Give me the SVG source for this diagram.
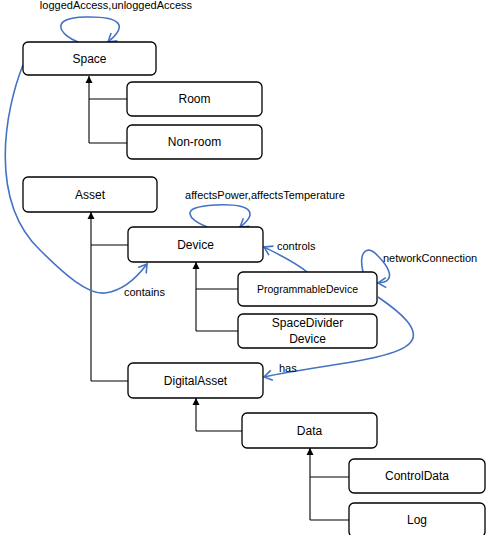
<svg xmlns="http://www.w3.org/2000/svg" width="493" height="535" viewBox="0 0 493 535">
<style>
.n rect{fill:#fff;stroke:#000;stroke-width:1.3}
.n text{font-family:"Liberation Sans",Arial,sans-serif;font-size:12px;text-anchor:middle;dominant-baseline:central;fill:#000}
.n text.s{font-size:10.5px}
.inh{fill:none;stroke:#000;stroke-width:1.1}
.rel{fill:none;stroke:#4472C4;stroke-width:1.6}
.lbl{font-family:"Liberation Sans",Arial,sans-serif;font-size:11px;fill:#000;dominant-baseline:central}
</style>
<defs>
<marker id="oa" markerUnits="userSpaceOnUse" markerWidth="12" markerHeight="12" refX="9" refY="5" viewBox="0 0 12 10" orient="auto" overflow="visible">
<path d="M1,0 L9,5 L1,10" fill="none" stroke="#4472C4" stroke-width="1.6"/>
</marker>
<marker id="ta" markerUnits="userSpaceOnUse" markerWidth="8" markerHeight="8" refX="7" refY="3.5" viewBox="0 0 8 7" orient="auto">
<path d="M0,0 L7,3.5 L0,7 Z" fill="#000"/>
</marker>
</defs>
<g id="connectors">
<path class="inh" d="M89,143 V76" marker-end="url(#ta)"/>
<path class="inh" d="M89,99 H127 M89,143 H127"/>
<path class="inh" d="M91,381 V212" marker-end="url(#ta)"/>
<path class="inh" d="M91,245 H128 M91,381 H128"/>
<path class="inh" d="M196,331 V262" marker-end="url(#ta)"/>
<path class="inh" d="M196,289 H238 M196,331 H238"/>
<path class="inh" d="M196,431 V398" marker-end="url(#ta)"/>
<path class="inh" d="M196,431 H242"/>
<path class="inh" d="M310,520 V448" marker-end="url(#ta)"/>
<path class="inh" d="M310,477 H349 M310,520 H349"/>
<path class="rel" d="M78,42 C60,35 48,18 85,17 C122,16 128,26 108,42" marker-end="url(#oa)"/>
<path class="rel" d="M23,65 C5,110 -12,200 40,250 C65,275 88,295 105,293 C122,291 135,280 147,264" marker-end="url(#oa)"/>
<path class="rel" d="M207,227 C190,220 176,207 215,205 C256,203 256,215 240,227" marker-end="url(#oa)"/>
<path class="rel" d="M307,272 C295,262 280,255 264,247" marker-end="url(#oa)"/>
<path class="rel" d="M363,272 C358,250 368,245 378,256 C388,266 398,282 378,283" marker-end="url(#oa)"/>
<path class="rel" d="M378,297 C400,312 422,330 410,343 C395,360 320,365 264,377" marker-end="url(#oa)"/>
<text class="lbl" x="116" y="5" text-anchor="middle">loggedAccess,unloggedAccess</text>
<text class="lbl" x="265" y="195" text-anchor="middle">affectsPower,affectsTemperature</text>
<text class="lbl" x="277" y="246">controls</text>
<text class="lbl" x="383" y="258">networkConnection</text>
<text class="lbl" x="124" y="292">contains</text>
<text class="lbl" x="279" y="368">has</text>
</g>
<g id="Space" class="n"><rect x="23" y="42" width="133" height="33" rx="5"/><text x="89.5" y="58.5">Space</text></g>
<g id="Room" class="n"><rect x="127" y="82" width="135" height="34" rx="5"/><text x="194.5" y="99">Room</text></g>
<g id="Non-room" class="n"><rect x="127" y="125" width="135" height="34" rx="5"/><text x="194.5" y="142">Non-room</text></g>
<g id="Asset" class="n"><rect x="23" y="177" width="134" height="35" rx="5"/><text x="90" y="194.5">Asset</text></g>
<g id="Device" class="n"><rect x="128" y="227" width="135" height="35" rx="5"/><text x="195.5" y="244.5">Device</text></g>
<g id="ProgrammableDevice" class="n"><rect x="238" y="272" width="139" height="34" rx="5"/><text class="s" x="307.5" y="289">ProgrammableDevice</text></g>
<g id="SpaceDividerDevice" class="n"><rect x="238" y="314" width="139" height="34" rx="5"/><text x="307.5" y="323">SpaceDivider</text><text x="307.5" y="339">Device</text></g>
<g id="DigitalAsset" class="n"><rect x="128" y="363" width="135" height="35" rx="5"/><text x="195.5" y="380.5">DigitalAsset</text></g>
<g id="Data" class="n"><rect x="242" y="413" width="135" height="35" rx="5"/><text x="309.5" y="430.5">Data</text></g>
<g id="ControlData" class="n"><rect x="349" y="459" width="136" height="34" rx="5"/><text x="417" y="476">ControlData</text></g>
<g id="Log" class="n"><rect x="349" y="503" width="136" height="34" rx="5"/><text x="417" y="520">Log</text></g>
</svg>
